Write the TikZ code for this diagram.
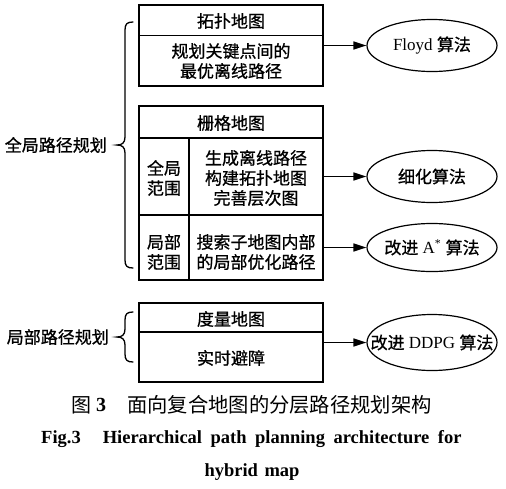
\documentclass[tikz,border=0pt]{standalone}
\usepackage{fontspec}
\setmainfont{Liberation Serif}
\newfontfamily\cjk{Noto Sans CJK SC}
\newfontfamily\cjkb[FakeBold=0.8]{Noto Sans CJK SC}
\usetikzlibrary{arrows.meta,shapes.geometric}
\newcommand\zhs[1]{{\cjkb #1}}
\begin{document}
\begin{tikzpicture}[x=1pt,y=-1pt,
  frame/.style={draw,line width=1.4pt,inner sep=0pt,minimum width=184pt},
  zh/.style={font=\cjkb\fontsize{17}{20}\selectfont,align=center,inner sep=0pt},
  algo/.style={draw,ellipse,line width=1.2pt,minimum width=130pt,minimum height=52pt,inner sep=0pt,font=\fontsize{17}{20}\selectfont},
  arr/.style={line width=1.4pt,-{Triangle[length=13pt,width=8pt]}},
  brace/.style={line width=1.3pt,line cap=round}
]
\useasboundingbox[fill=white] (0,0) rectangle (506,488);

% top box
\node[frame,minimum height=81pt] (topbox) at (231,45.5) {};
\draw[line width=1.4pt] (139,35.5) -- (323,35.5);
\node[zh] (topohead) at (231,21) {拓扑地图};
\node[zh] (topotext) at (231,61) {规划关键点间的\\最优离线路径};

% grid box
\node[frame,minimum height=174pt] (gridbox) at (231,193) {};
\node[frame,minimum height=77pt] (row1) at (231,176.5) {};
\node[frame,minimum height=65pt] (row2) at (231,247.5) {};
\draw[line width=1.4pt] (189,138) -- (189,280);
\node[zh] (gridhead) at (231,123) {栅格地图};
\node[zh] (glob) at (164,178) {全局\\范围};
\node[zh] (globtext) at (256,178) {生成离线路径\\构建拓扑地图\\完善层次图};
\node[zh] (loc) at (164,252) {局部\\范围};
\node[zh] (loctext) at (256,252) {搜索子地图内部\\的局部优化路径};

% metric box
\node[frame,minimum height=79pt] (metricbox) at (231,342.5) {};
\draw[line width=1.4pt] (139,332) -- (323,332);
\node[zh] (metrichead) at (231,319) {度量地图};
\node[zh] (avoid) at (231,358) {实时避障};

% ellipses
\node[algo] (floyd) at (432,45.5) {\makebox[0pt]{Floyd \zhs{算法}}};
\node[algo] (refine) at (432,176.5) {\makebox[0pt]{\zhs{细化算法}}};
\node[algo,minimum height=48pt] (astar) at (432,247.5) {\makebox[0pt]{\zhs{改进} A\textsuperscript{*} \zhs{算法}}};
\node[algo,minimum height=56pt] (ddpg) at (432,342.5) {\makebox[0pt]{\zhs{改进} DDPG \zhs{算法}}};

% arrows
\draw[arr] (topbox.east) -- (floyd.west);
\draw[arr] (row1.east) -- (refine.west);
\draw[arr] (row2.east) -- (astar.west);
\draw[arr] (metricbox.east) -- (ddpg.west);

% braces and labels
\draw[brace] (133,22) .. controls (127,22) and (125,24) .. (125,30) -- (125,137) .. controls (125,143) and (122,145) .. (117,145) .. controls (122,145) and (125,147) .. (125,153) -- (125,260) .. controls (125,266) and (127,268) .. (133,268);
\draw[brace] (133,312) .. controls (127,312) and (125,314) .. (125,320) -- (125,329) .. controls (125,335) and (122,337) .. (117,337) .. controls (122,337) and (125,339) .. (125,345) -- (125,354) .. controls (125,360) and (127,362) .. (133,362);
\node[zh,anchor=east] (globalplan) at (107,145) {全局路径规划};
\node[zh,anchor=east] (localplan) at (109,337) {局部路径规划};

% captions
\node[font=\cjk\fontsize{20}{24}\selectfont,inner sep=0pt] (capfig) at (81,405) {图};
\node[font=\bfseries\fontsize{20}{24}\selectfont,inner sep=0pt] (capnum) at (101,405) {3};
\node[font=\cjk\fontsize{20.3}{24}\selectfont,anchor=west,inner sep=0pt] (captitle) at (127,405) {面向复合地图的分层路径规划架构};
\node[font=\bfseries\fontsize{18.5}{22}\selectfont,anchor=base west,inner sep=0pt] (capen) at (41,443) {Fig.3\hspace{22pt}Hierarchical\hspace{8.5pt}path\hspace{8.5pt}planning\hspace{8.5pt}architecture\hspace{8.5pt}for};
\node[font=\bfseries\fontsize{18.5}{22}\selectfont,anchor=base,inner sep=0pt] (capen2) at (252,476) {hybrid\hspace{6.5pt}map};
\end{tikzpicture}
\end{document}
